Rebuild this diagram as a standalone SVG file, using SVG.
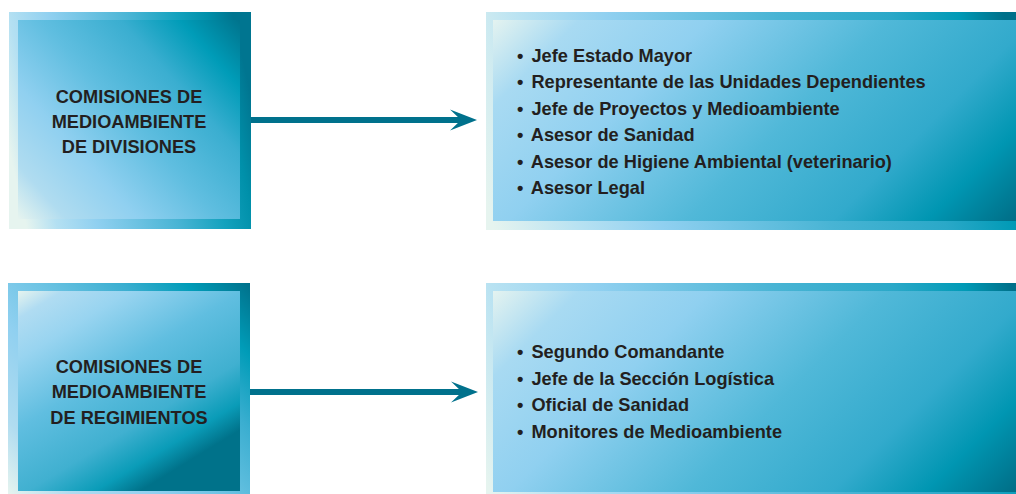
<svg xmlns="http://www.w3.org/2000/svg" width="1016" height="494" viewBox="0 0 1016 494">
<style>
.t{font-family:"Liberation Sans",Arial,sans-serif;font-weight:bold;font-size:18.2px;fill:#231f20}
.c{text-anchor:middle}
.conn{stroke:#00718c;stroke-width:6;fill:none}
</style>
<defs>
<marker id="ah" viewBox="-12 -11 28 22" markerWidth="28" markerHeight="22" refX="0" refY="0" orient="auto" markerUnits="userSpaceOnUse">
<path d="M-12,-10.5 L15,0 L-12,10.5 L-1,0 z" fill="#00718c"/>
</marker>
<linearGradient id="o1" gradientUnits="userSpaceOnUse" x1="9" y1="150" x2="251" y2="95">
<stop offset="0" stop-color="#e6f4ef"/><stop offset="0.12" stop-color="#b4e0f2"/><stop offset="0.28" stop-color="#90d0f0"/><stop offset="0.6" stop-color="#48b4d4"/><stop offset="0.78" stop-color="#14a2be"/><stop offset="0.9" stop-color="#0090aa"/><stop offset="1" stop-color="#007590"/>
</linearGradient>
<linearGradient id="i1" gradientUnits="userSpaceOnUse" x1="18" y1="219" x2="240" y2="20">
<stop offset="0" stop-color="#e6f4ef"/><stop offset="0.12" stop-color="#b0dcf0"/><stop offset="0.3" stop-color="#90d0f0"/><stop offset="0.5" stop-color="#60bee0"/><stop offset="0.7" stop-color="#3aaed0"/><stop offset="0.85" stop-color="#009cb8"/><stop offset="1" stop-color="#00738c"/>
</linearGradient>
<linearGradient id="o2" gradientUnits="userSpaceOnUse" x1="486" y1="200" x2="1016" y2="60">
<stop offset="0" stop-color="#e6f4ef"/><stop offset="0.15" stop-color="#b8e2f2"/><stop offset="0.3" stop-color="#90d0f0"/><stop offset="0.6" stop-color="#48b4d4"/><stop offset="0.8" stop-color="#2aa8c8"/><stop offset="0.92" stop-color="#009ab6"/><stop offset="1" stop-color="#00708a"/>
</linearGradient>
<linearGradient id="i2" gradientUnits="userSpaceOnUse" x1="493" y1="20" x2="853" y2="380">
<stop offset="0" stop-color="#e4f3f0"/><stop offset="0.12" stop-color="#a8daf2"/><stop offset="0.3" stop-color="#90d0f0"/><stop offset="0.55" stop-color="#50b8d8"/><stop offset="0.75" stop-color="#32aacc"/><stop offset="0.88" stop-color="#0096b2"/><stop offset="1" stop-color="#006f88"/>
</linearGradient>
<linearGradient id="o3" gradientUnits="userSpaceOnUse" x1="8" y1="494" x2="250" y2="283">
<stop offset="0" stop-color="#e6f4ef"/><stop offset="0.15" stop-color="#b0dcf0"/><stop offset="0.35" stop-color="#90d0f0"/><stop offset="0.5" stop-color="#6ec4e4"/><stop offset="0.7" stop-color="#3aaed0"/><stop offset="0.85" stop-color="#009cb8"/><stop offset="1" stop-color="#00708a"/>
</linearGradient>
<linearGradient id="i3" gradientUnits="userSpaceOnUse" x1="18" y1="291" x2="140" y2="491">
<stop offset="0" stop-color="#e6f4ef"/><stop offset="0.1" stop-color="#b0dcf2"/><stop offset="0.25" stop-color="#98d4f0"/><stop offset="0.5" stop-color="#60bee0"/><stop offset="0.75" stop-color="#40b0d0"/><stop offset="0.9" stop-color="#0a9cb8"/><stop offset="1" stop-color="#00728a"/>
</linearGradient>
<linearGradient id="o4" gradientUnits="userSpaceOnUse" x1="486" y1="480" x2="1016" y2="300">
<stop offset="0" stop-color="#e6f4ef"/><stop offset="0.12" stop-color="#b8e2f2"/><stop offset="0.3" stop-color="#90d0f0"/><stop offset="0.6" stop-color="#48b4d4"/><stop offset="0.8" stop-color="#2aa8c8"/><stop offset="0.92" stop-color="#009ab6"/><stop offset="1" stop-color="#00708a"/>
</linearGradient>
<linearGradient id="i4" gradientUnits="userSpaceOnUse" x1="493" y1="291" x2="853" y2="651">
<stop offset="0" stop-color="#e4f3f0"/><stop offset="0.12" stop-color="#a8daf2"/><stop offset="0.3" stop-color="#90d0f0"/><stop offset="0.55" stop-color="#50b8d8"/><stop offset="0.75" stop-color="#32aacc"/><stop offset="0.88" stop-color="#0096b2"/><stop offset="1" stop-color="#006f88"/>
</linearGradient>
</defs>
<rect width="1016" height="494" fill="#ffffff"/>
<g id="div-comisiones">
<rect x="9" y="12" width="242" height="217" fill="url(#o1)"/>
<rect x="18" y="20" width="222" height="199" fill="url(#i1)"/>
<text class="t c" x="129" y="103">COMISIONES DE</text>
<text class="t c" x="129" y="128">MEDIOAMBIENTE</text>
<text class="t c" x="129" y="153">DE DIVISIONES</text>
</g>
<g id="div-miembros">
<rect x="486" y="12" width="530" height="218" fill="url(#o2)"/>
<rect x="493" y="20" width="523" height="201" fill="url(#i2)"/>
<text class="t" x="517" y="62">• <tspan dx="3">Jefe Estado Mayor</tspan></text>
<text class="t" x="517" y="88">• <tspan dx="3">Representante de las Unidades Dependientes</tspan></text>
<text class="t" x="517" y="115">• <tspan dx="3">Jefe de Proyectos y Medioambiente</tspan></text>
<text class="t" x="517" y="141">• <tspan dx="3">Asesor de Sanidad</tspan></text>
<text class="t" x="517" y="168">• <tspan dx="3">Asesor de Higiene Ambiental (veterinario)</tspan></text>
<text class="t" x="517" y="194">• <tspan dx="3">Asesor Legal</tspan></text>
</g>
<g id="reg-comisiones">
<rect x="8" y="283" width="242" height="211" fill="url(#o3)"/>
<rect x="18" y="291" width="222" height="200" fill="url(#i3)"/>
<text class="t c" x="129" y="373">COMISIONES DE</text>
<text class="t c" x="129" y="398">MEDIOAMBIENTE</text>
<text class="t c" x="129" y="424">DE REGIMIENTOS</text>
</g>
<g id="reg-miembros">
<rect x="486" y="283" width="530" height="211" fill="url(#o4)"/>
<rect x="493" y="291" width="523" height="201" fill="url(#i4)"/>
<text class="t" x="517" y="358">• <tspan dx="3">Segundo Comandante</tspan></text>
<text class="t" x="517" y="385">• <tspan dx="3">Jefe de la Sección Logística</tspan></text>
<text class="t" x="517" y="411">• <tspan dx="3">Oficial de Sanidad</tspan></text>
<text class="t" x="517" y="438">• <tspan dx="3">Monitores de Medioambiente</tspan></text>
</g>
<g id="connectors">
<line class="conn" x1="251" y1="120" x2="462" y2="120" marker-end="url(#ah)"/>
<line class="conn" x1="250" y1="392" x2="463" y2="392" marker-end="url(#ah)"/>
</g>
</svg>
